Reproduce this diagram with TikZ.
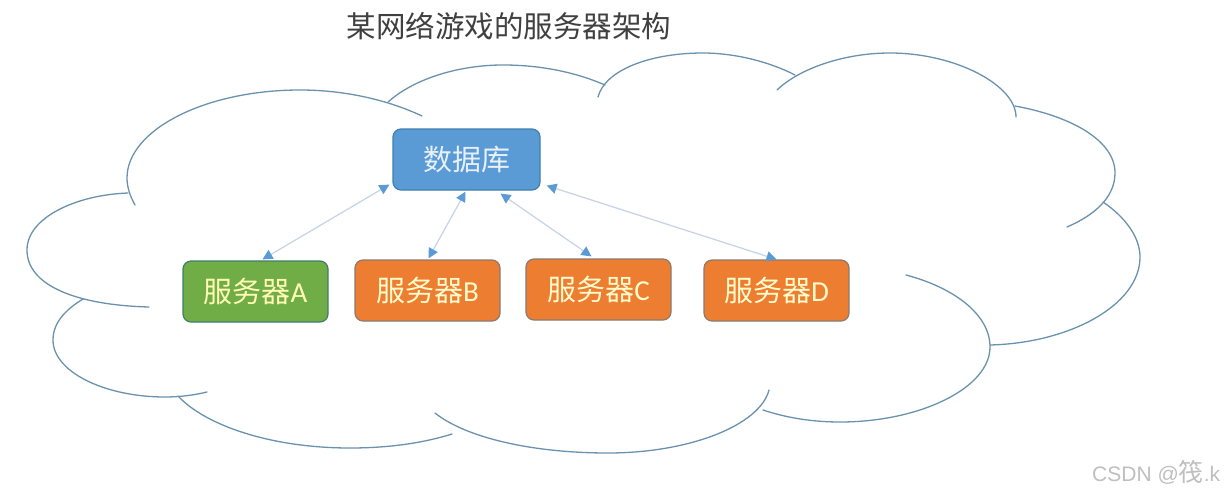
\documentclass[tikz,border=0pt]{standalone}
\usepackage{fontspec}
\setmainfont{Carlito}
\newfontfamily\cjk{Noto Sans CJK SC}
\newfontfamily\marklatin{Liberation Sans}
\usetikzlibrary{arrows.meta}
\definecolor{cloudline}{HTML}{6A92AE}
\definecolor{linkline}{HTML}{C9D5E6}
\definecolor{tipblue}{HTML}{5B9BD5}
\definecolor{dbfill}{HTML}{5B9BD5}
\definecolor{dbline}{HTML}{3F7FAE}
\definecolor{greenfill}{HTML}{70AD47}
\definecolor{greenline}{HTML}{3F7F6A}
\definecolor{orangefill}{HTML}{ED7D31}
\definecolor{orangeline}{HTML}{8A7A70}
\tikzset{
  lobe/.style={draw=cloudline,line width=1.3pt,line cap=round},
  box/.style={rounded corners=8pt,minimum width=145pt,minimum height=61pt,inner sep=0pt,line width=1.2pt,font=\fontsize{29}{32}\selectfont},
  dbbox/.style={box,fill=dbfill,draw=dbline,minimum width=147pt,text=white!85!dbfill},
  greenbox/.style={box,fill=greenfill,draw=greenline,text=white!70!yellow},
  orangebox/.style={box,fill=orangefill,draw=orangeline,text=white!80!yellow},
  link/.style={draw=linkline,line width=1.3pt,{Triangle[color=tipblue,length=10pt,width=10pt]}-{Triangle[color=tipblue,length=10pt,width=10pt]}}
}
\begin{document}
\begin{tikzpicture}[x=1pt,y=-1pt]
\useasboundingbox (0,0) rectangle (1225,492);
\fill[white] (0,0) rectangle (1225,492);
% cloud lobes
\draw[lobe] (135,205) .. controls (130,196) and (127,187) .. (127,178) .. controls (127,130) and (205,90) .. (300,90) .. controls (345,90) and (388,100) .. (422,116);
\draw[lobe] (388,102) .. controls (415,78) and (460,65) .. (503,65) .. controls (540,65) and (575,72) .. (605,85);
\draw[lobe] (598,97) .. controls (605,70) and (650,53) .. (703,53) .. controls (735,53) and (770,62) .. (795,75);
\draw[lobe] (777,90) .. controls (800,68) and (845,53) .. (890,53) .. controls (955,53) and (1016,85) .. (1016,117);
\draw[lobe] (1015,106) .. controls (1070,116) and (1115,140) .. (1115,173) .. controls (1115,197) and (1095,215) .. (1067,227);
\draw[lobe] (1103,202) .. controls (1125,217) and (1140,237) .. (1140,257) .. controls (1140,305) and (1070,343) .. (990,345);
\draw[lobe] (906,275) .. controls (955,288) and (990,315) .. (990,347) .. controls (990,388) and (920,422) .. (840,422) .. controls (813,422) and (787,418) .. (763,410);
\draw[lobe] (769,390) .. controls (760,425) and (690,453) .. (608,453) .. controls (530,453) and (465,437) .. (435,413);
\draw[lobe] (452,434) .. controls (420,444) and (385,448) .. (350,448) .. controls (270,448) and (205,425) .. (178,396);
\draw[lobe] (207,392) .. controls (195,395) and (180,397) .. (165,397) .. controls (105,397) and (53,372) .. (53,340) .. controls (53,323) and (65,310) .. (83,299);
\draw[lobe] (149,307) .. controls (75,305) and (27,285) .. (27,250) .. controls (27,218) and (75,195) .. (128,193);
% nodes
\node[dbbox] (db) at (466.5,159.5) {\cjk 数据库};
\node[greenbox] (srvA) at (255.5,291.5) {\cjk 服务器\rmfamily A};
\node[orangebox] (srvB) at (427.5,290.5) {\cjk 服务器\rmfamily B};
\node[orangebox] (srvC) at (598.5,289.5) {\cjk 服务器\rmfamily C};
\node[orangebox] (srvD) at (776.5,290.5) {\cjk 服务器\rmfamily D};
% connectors
\draw[link] ([shift={(7,-1)}]srvA.north) -- ([shift={(-3,-6)}]db.south west);
\draw[link] ([shift={(1,-1)}]srvB.north) -- ([shift={(-1,1)}]db.south);
\draw[link] ([shift={(-7,-2)}]srvC.north) -- ([shift={(34,3)}]db.south);
\draw[link] (srvD.north) -- ([shift={(6,-5)}]db.south east);
% title and watermark
\node[font=\fontsize{29.5}{32}\selectfont,text=black!75,inner sep=0pt] (title) at (509,26) {\cjk 某网络游戏的服务器架构};
\node[font=\fontsize{21}{24}\selectfont,text=black!25,anchor=west,inner sep=0pt] (mark) at (1092,472) {\marklatin CSDN @{\fontsize{25}{24}\selectfont\cjk 筏}\marklatin .k};
\end{tikzpicture}
\end{document}
